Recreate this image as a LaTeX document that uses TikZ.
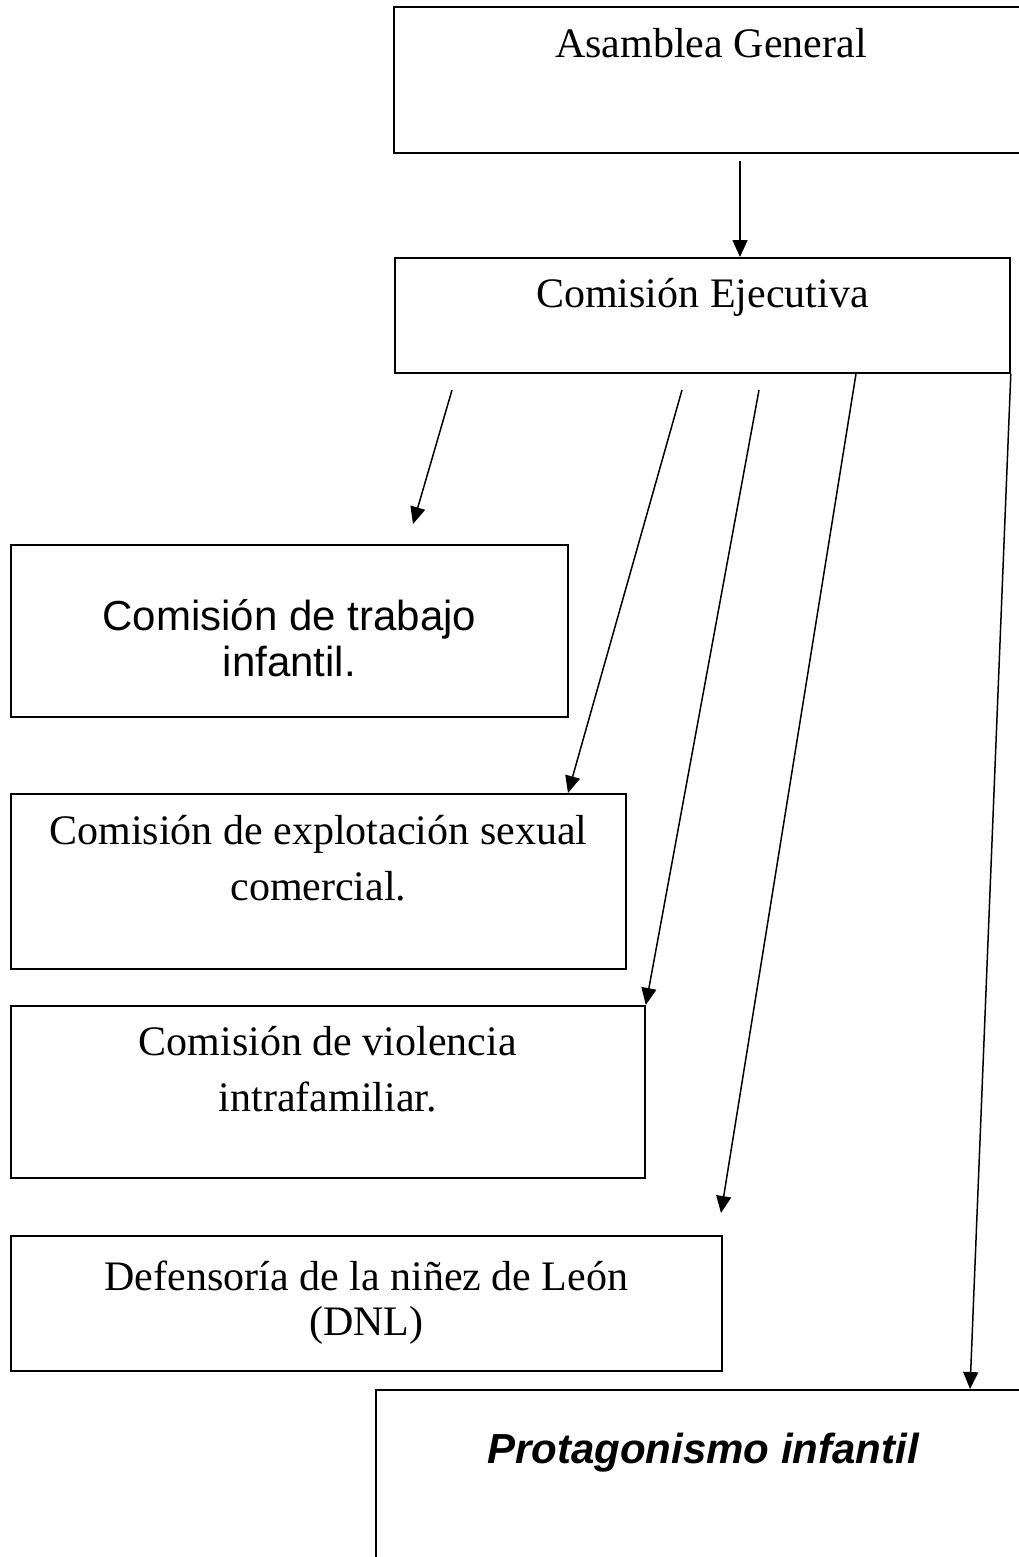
\documentclass[tikz,border=0pt]{standalone}
\usepackage{fontspec}
\setmainfont{Liberation Serif}
\newfontfamily\arialfont{Liberation Sans}
\usetikzlibrary{arrows.meta,calc,positioning}
\begin{document}
\begin{tikzpicture}[x=1pt,y=-1pt,
  box/.style={draw, line width=1.8pt, rectangle, inner sep=0pt, anchor=north west},
  txt/.style={inner sep=0pt, anchor=north, align=center, font=\fontsize{42}{56}\selectfont},
  arr/.style={line width=1.5pt, -{Triangle[length=17pt,width=15pt]}}]
\useasboundingbox (0,0) rectangle (1019,1557);
\clip (0,0) rectangle (1019,1557);
\node[box, minimum width=700pt, minimum height=146pt] (ag) at (393,6){};
\node[box, minimum width=615pt, minimum height=115pt] (ce) at (394,257){};
\node[box, minimum width=557pt, minimum height=172pt] (ct) at (10,544){};
\node[box, minimum width=615pt, minimum height=175pt] (ces) at (10,793){};
\node[box, minimum width=634pt, minimum height=172pt] (cvi) at (10,1005){};
\node[box, minimum width=711pt, minimum height=135pt] (dnl) at (10,1235){};
\node[box, minimum width=700pt, minimum height=250pt] (pin) at (375,1389){};
\node[txt] (agt) at (711,28){Asamblea General};
\node[txt, below=21pt of ce.north] (cet){Comisión Ejecutiva};
\node[txt, below=55pt of ct.north, font=\arialfont\fontsize{42}{46}\selectfont] (ctt){Comisión de trabajo\\infantil.};
\node[txt, below=22pt of ces.north] (cest){Comisión de explotación sexual\\comercial.};
\node[txt, below=21pt of cvi.north] (cvit){Comisión de violencia\\intrafamiliar.};
\node[txt, below=26pt of dnl.north, font=\fontsize{42}{45}\selectfont] (dnlt){Defensoría de la niñez de León\\(DNL)};
\node[txt, font=\arialfont\bfseries\itshape\fontsize{42}{50}\selectfont] (pint) at (703,1433){Protagonismo infantil};
\coordinate (s0) at (740,161);
\coordinate (s1) at (452,390);
\coordinate (e1) at (413,524);
\coordinate (s2) at (682,390);
\coordinate (s3) at (759,390);
\coordinate (e4) at (721,1213);
\draw[arr] (s0) -- ($(ce.north west)+(346,0)$);
\draw[arr] (s1) -- (e1);
\draw[arr] (s2) -- ($(ces.north west)+(558,0)$);
\draw[arr] (s3) -- (cvi.north east);
\draw[arr] ($(ce.south west)+(462,0)$) -- (e4);
\draw[arr] (ce.south east) -- ($(pin.north west)+(595,0)$);
\end{tikzpicture}
\end{document}
